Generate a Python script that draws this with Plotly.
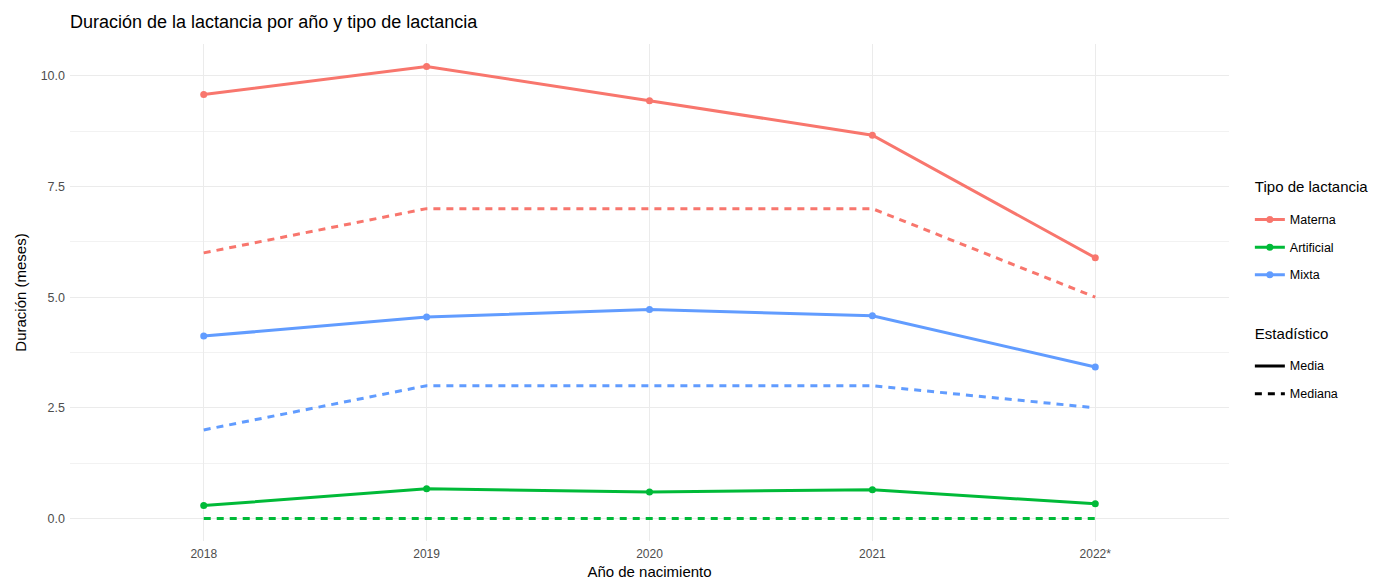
import plotly.graph_objects as go

years = ["2018", "2019", "2020", "2021", "2022*"]
tipos = ["Materna", "Artificial", "Mixta"]
colors = {"Materna": "#F8766D", "Artificial": "#00BA38", "Mixta": "#619CFF"}

media_materna = [9.58, 10.21, 9.44, 8.66, 5.89]
media_artificial = [0.29, 0.67, 0.60, 0.65, 0.33]
media_mixta = [4.12, 4.55, 4.72, 4.58, 3.42]

mediana_materna = [6, 7, 7, 7, 5]
mediana_artificial = [0, 0, 0, 0, 0]
mediana_mixta = [2, 3, 3, 3, 2.5]

media = {"Materna": media_materna, "Artificial": media_artificial, "Mixta": media_mixta}
mediana = {"Materna": mediana_materna, "Artificial": mediana_artificial, "Mixta": mediana_mixta}

fig = go.Figure()
LW = 3
DASH = "7px,6px"
for t in tipos:
    fig.add_trace(go.Scatter(x=years, y=mediana[t], mode="lines",
                             line=dict(color=colors[t], width=LW, dash=DASH),
                             showlegend=False, hoverinfo="skip"))
for t in tipos:
    fig.add_trace(go.Scatter(x=years, y=media[t], mode="lines+markers",
                             line=dict(color=colors[t], width=LW),
                             marker=dict(color=colors[t], size=7),
                             showlegend=False))

def lab(s):
    return "<span style='font-size:12.5px;baseline-shift:3px'>%s</span>" % s

def gtitle(s):
    return "<span style='font-size:15px;baseline-shift:7px'>%s</span>" % s

# legend entries
for i, t in enumerate(tipos):
    fig.add_trace(go.Scatter(x=[None], y=[None], mode="lines+markers", name=lab(t),
                             line=dict(color=colors[t], width=LW),
                             marker=dict(color=colors[t], size=7),
                             legendgroup="tipo",
                             legendgrouptitle=dict(text=gtitle("Tipo de lactancia") if i == 0 else None,
                                                   font=dict(size=18, color="#000000"))))
for i, (name, dash) in enumerate([("Media", "solid"), ("Mediana", DASH)]):
    fig.add_trace(go.Scatter(x=[None], y=[None], mode="lines", name=lab(name),
                             line=dict(color="#000000", width=LW, dash=dash),
                             legendgroup="stat",
                             legendgrouptitle=dict(text=gtitle("Estadístico") if i == 0 else None,
                                                   font=dict(size=18, color="#000000"))))

fig.update_layout(
    width=1392, height=583,
    paper_bgcolor="white", plot_bgcolor="white",
    font=dict(family="Liberation Sans, Arial, sans-serif", color="#000000"),
    margin=dict(l=70, r=163, t=44, b=42),
    title=dict(text="Duración de la lactancia por año y tipo de lactancia",
               x=70/1392, xanchor="left", y=1-22/583, yanchor="middle",
               font=dict(size=18, color="#000000")),
    legend=dict(x=1.018, xanchor="left", y=0.738, yanchor="top",
                font=dict(size=19, color="#000000"),
                tracegroupgap=37, itemwidth=30, bgcolor="rgba(0,0,0,0)"),
    xaxis=dict(type="category", range=[-0.6, 4.6], showgrid=True, automargin=False,
               gridcolor="#ebebeb", gridwidth=1.2, zeroline=False, showline=False,
               ticks="", tickfont=dict(size=12, color="#4d4d4d"), ticklabelstandoff=4,
               title=dict(text="Año de nacimiento", font=dict(size=15, color="#000000"),
                          standoff=6)),
    yaxis=dict(range=[-0.51, 10.72], tick0=0, dtick=2.5, tickformat=".1f", automargin=False,
               showgrid=True, gridcolor="#ebebeb", gridwidth=1.2, zeroline=False,
               showline=False, ticks="", tickfont=dict(size=12.5, color="#4d4d4d"),
               ticklabelstandoff=4,
               minor=dict(dtick=1.25, tick0=0, showgrid=True, gridcolor="#f2f2f2", gridwidth=0.8),
               title=dict(text="Duración (meses)", font=dict(size=15, color="#000000"),
                          standoff=10)),
)

fig.write_html("out.html", post_script="document.body.style.margin='0';",
               config={"displayModeBar": False})
